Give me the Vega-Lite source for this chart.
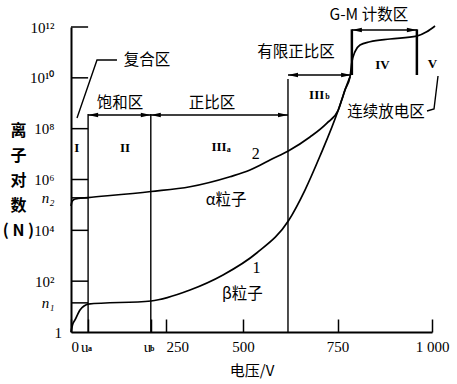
{
  "$schema": "https://vega.github.io/schema/vega-lite/v6.json",
  "width": 361,
  "height": 305,
  "autosize": "none",
  "padding": {"left": 71, "top": 27, "right": 25, "bottom": 52},
  "background": "white",
  "config": {
    "view": {"stroke": null},
    "axis": {"grid": false, "domainColor": "#000", "domainWidth": 2, "labelColor": "#000", "titleColor": "#000", "tickColor": "#000"}
  },
  "datasets": {
    "curves": [
      {"s": "a", "u": 0, "n": 90600}, {"s": "a", "u": 2.6, "n": 136000}, {"s": "a", "u": 7.9, "n": 163000},
      {"s": "a", "u": 18.4, "n": 179000}, {"s": "a", "u": 44.7, "n": 195000}, {"s": "a", "u": 210.5, "n": 337000},
      {"s": "a", "u": 327.9, "n": 520000}, {"s": "a", "u": 457.8, "n": 1290000}, {"s": "a", "u": 518.5, "n": 2360000},
      {"s": "a", "u": 545, "n": 3610000}, {"s": "a", "u": 571.4, "n": 5840000}, {"s": "a", "u": 619.8, "n": 13200000},
      {"s": "a", "u": 677.2, "n": 46900000}, {"s": "a", "u": 721.4, "n": 162000000}, {"s": "a", "u": 752.1, "n": 541000000},
      {"s": "a", "u": 761.1, "n": 1340000000}, {"s": "a", "u": 769.8, "n": 3310000000}, {"s": "a", "u": 783.1, "n": 11000000000},
      {"s": "a", "u": 787.6, "n": 38000000000}, {"s": "a", "u": 796.3, "n": 107000000000}, {"s": "a", "u": 809.5, "n": 195000000000},
      {"s": "a", "u": 836, "n": 263000000000}, {"s": "a", "u": 888.9, "n": 337000000000}, {"s": "a", "u": 959.5, "n": 438000000000},
      {"s": "a", "u": 986, "n": 650000000000}, {"s": "a", "u": 1008, "n": 1100000000000},
      {"s": "b", "u": 0, "n": 1}, {"s": "b", "u": 3.9, "n": 1.88}, {"s": "b", "u": 10.5, "n": 2.97},
      {"s": "b", "u": 23.7, "n": 7.33}, {"s": "b", "u": 34.2, "n": 10.5}, {"s": "b", "u": 44.7, "n": 12.6},
      {"s": "b", "u": 210.5, "n": 16.6}, {"s": "b", "u": 327.9, "n": 44.9}, {"s": "b", "u": 435.1, "n": 175},
      {"s": "b", "u": 536.2, "n": 1282}, {"s": "b", "u": 619.8, "n": 23300}, {"s": "b", "u": 664, "n": 386000},
      {"s": "b", "u": 703.7, "n": 8390000}, {"s": "b", "u": 752.1, "n": 541000000},
      {"s": "b", "u": 761.1, "n": 1340000000}, {"s": "b", "u": 769.8, "n": 3310000000}, {"s": "b", "u": 783.1, "n": 11000000000}
    ],
    "yticks": [
      {"u": 0, "u2": 45, "n": 1000000000000}, {"u": 0, "u2": 45, "n": 10000000000}, {"u": 0, "u2": 45, "n": 100000000},
      {"u": 0, "u2": 45, "n": 1000000}, {"u": 0, "u2": 45, "n": 190000}, {"u": 0, "u2": 45, "n": 10000},
      {"u": 0, "u2": 45, "n": 100}, {"u": 0, "u2": 45, "n": 14}
    ],
    "vlines": [
      {"k": "r", "u": 45, "n": 1, "n2": 377000000},
      {"k": "r", "u": 210, "n": 1, "n2": 377000000},
      {"k": "r", "u": 619, "n": 1, "n2": 9000000000},
      {"k": "g", "u": 788, "n": 12900000000, "n2": 810000000000},
      {"k": "g", "u": 960, "n": 12900000000, "n2": 810000000000}
    ],
    "arrows": [
      {"u": 45, "u2": 210, "n": 344000000},
      {"u": 210, "u2": 619, "n": 344000000},
      {"u": 619, "u2": 786, "n": 12900000000},
      {"u": 788, "u2": 960, "n": 760000000000}
    ],
    "leaders": [
      {"g": "f", "i": 1, "u": 121, "n": 50000000000}, {"g": "f", "i": 2, "u": 68.4, "n": 50000000000}, {"g": "f", "i": 3, "u": 15.8, "n": 262000000},
      {"g": "l", "i": 1, "u": 986.8, "n": 494000000}, {"g": "l", "i": 2, "u": 1005.3, "n": 593000000}, {"g": "l", "i": 3, "u": 1015.9, "n": 11800000000}
    ],
    "texts": [
      {"t": "复合区", "u": 200, "n": 50000000000, "k": "c"},
      {"t": "饱和区", "u": 129, "n": 1020000000, "k": "c"},
      {"t": "正比区", "u": 399, "n": 1020000000, "k": "c"},
      {"t": "有限正比区", "u": 640, "n": 104000000000, "k": "c"},
      {"t": "G-M 计数区", "u": 833, "n": 2970000000000, "k": "c"},
      {"t": "连续放电区", "u": 878, "n": 464000000, "k": "c"},
      {"t": "α粒子", "u": 445, "n": 156000, "k": "c"},
      {"t": "β粒子", "u": 498, "n": 32.7, "k": "c"},
      {"t": "I", "u": 15, "n": 18100000, "k": "r"},
      {"t": "II", "u": 142, "n": 18100000, "k": "r"},
      {"t": "III", "u": 422, "n": 19000000, "k": "r"},
      {"t": "III", "u": 695, "n": 2100000000, "k": "r"},
      {"t": "IV", "u": 869, "n": 32000000000, "k": "r"},
      {"t": "V", "u": 1001, "n": 34000000000, "k": "r"},
      {"t": "a", "u": 453.6, "n": 15100000, "k": "s"},
      {"t": "b", "u": 723.5, "n": 1760000000, "k": "s"},
      {"t": "2", "u": 534, "n": 10000000, "k": "d"},
      {"t": "1", "u": 536, "n": 344, "k": "d"},
      {"t": "a", "u": 50, "n": 0.21, "k": "x"},
      {"t": "b", "u": 214, "n": 0.22, "k": "x"}
    ]
  },
  "layer": [
    {
      "data": {"name": "curves"},
      "mark": {"type": "line", "interpolate": "monotone", "color": "#000", "strokeWidth": 1.7},
      "encoding": {
        "x": {
          "field": "u", "type": "quantitative",
          "scale": {"domain": [0, 250, 500, 1000], "range": [0, 95, 172, 361], "nice": false, "zero": false},
          "axis": {
            "values": [0, 45, 210, 250, 500, 750, 1000],
            "labelExpr": "datum.value==0?'0':datum.value==45?'u':datum.value==210?'u':datum.value==1000?'1 000':datum.value==750?'750':datum.value==500?'500':'250'",
            "labelAlign": {"condition": [{"test": "datum.value==0||datum.value==250", "value": "left"}, {"test": "datum.value==45||datum.value==210", "value": "right"}], "value": "center"},
            "labelFlush": false, "labelOverlap": false, "labelBound": false,
            "tickSize": -13, "tickWidth": 1.5,
            "labelPadding": 20, "labelBaseline": "top",
            "labelFont": "Liberation Serif", "labelFontSize": 15,
            "title": "电压/V", "titleFont": "Noto Sans CJK SC", "titleFontSize": 15, "titleFontWeight": "normal",
            "titleY": 38, "titleBaseline": "middle"
          }
        },
        "y": {
          "field": "n", "type": "quantitative",
          "scale": {"type": "log", "domain": [1, 1000000000000], "nice": false},
          "axis": {
            "values": [1, 14, 100, 10000, 190000, 1000000, 100000000, 10000000000, 1000000000000],
            "labelExpr": "datum.value==1?'1':datum.value==14?'n₁':datum.value==100?'10²':datum.value==10000?'10⁴':datum.value==190000?'n₂':datum.value==1000000?'10⁶':datum.value==100000000?'10⁸':datum.value==10000000000?'10¹⁰':'10¹²'",
            "ticks": false, "labelPadding": 17, "labelOverlap": false, "labelBound": false, "labelFlush": false,
            "labelFont": "Liberation Serif", "labelFontSize": 15,
            "labelFontStyle": {"condition": {"test": "datum.value==14||datum.value==190000", "value": "italic"}, "value": "normal"},
            "labelAlign": {"condition": {"test": "datum.value==1", "value": "left"}, "value": "right"},
            "title": ["离", "子", "对", "数", "( N )"],
            "titleAngle": 0, "titleAlign": "center", "titleBaseline": "top",
            "titleX": -53, "titleY": 95, "titleLineHeight": 25,
            "titleFont": "Noto Sans CJK SC", "titleFontSize": 16, "titleFontWeight": "bold"
          }
        },
        "detail": {"field": "s"}
      }
    },
    {
      "data": {"name": "yticks"},
      "mark": {"type": "rule", "color": "#000", "strokeWidth": 1.5},
      "encoding": {
        "x": {"field": "u", "type": "quantitative"},
        "x2": {"field": "u2"},
        "y": {"field": "n", "type": "quantitative"}
      }
    },
    {
      "data": {"name": "vlines"},
      "transform": [{"filter": "datum.k=='r'"}],
      "mark": {"type": "rule", "color": "#000", "strokeWidth": 1.4},
      "encoding": {
        "x": {"field": "u", "type": "quantitative"},
        "y": {"field": "n", "type": "quantitative"},
        "y2": {"field": "n2"}
      }
    },
    {
      "data": {"name": "vlines"},
      "transform": [{"filter": "datum.k=='g'"}],
      "mark": {"type": "rule", "color": "#000", "strokeWidth": 2.5},
      "encoding": {
        "x": {"field": "u", "type": "quantitative"},
        "y": {"field": "n", "type": "quantitative"},
        "y2": {"field": "n2"}
      }
    },
    {
      "data": {"name": "arrows"},
      "mark": {"type": "rule", "color": "#000", "strokeWidth": 1.4},
      "encoding": {
        "x": {"field": "u", "type": "quantitative"},
        "x2": {"field": "u2"},
        "y": {"field": "n", "type": "quantitative"}
      }
    },
    {
      "data": {"name": "arrows"},
      "mark": {"type": "point", "shape": "M0,0L2,-0.45L2,0.45Z", "filled": true, "color": "#000", "size": 100, "opacity": 1, "strokeWidth": 0},
      "encoding": {
        "x": {"field": "u", "type": "quantitative"},
        "y": {"field": "n", "type": "quantitative"}
      }
    },
    {
      "data": {"name": "arrows"},
      "mark": {"type": "point", "shape": "M0,0L-2,-0.45L-2,0.45Z", "filled": true, "color": "#000", "size": 100, "opacity": 1, "strokeWidth": 0},
      "encoding": {
        "x": {"field": "u2", "type": "quantitative"},
        "y": {"field": "n", "type": "quantitative"}
      }
    },
    {
      "data": {"name": "leaders"},
      "mark": {"type": "line", "color": "#000", "strokeWidth": 1.4},
      "encoding": {
        "x": {"field": "u", "type": "quantitative"},
        "y": {"field": "n", "type": "quantitative"},
        "detail": {"field": "g"},
        "order": {"field": "i"}
      }
    },
    {
      "data": {"name": "texts"},
      "transform": [{"filter": "datum.k=='c'"}],
      "mark": {"type": "text", "font": "Noto Sans CJK SC", "fontSize": 15.5, "color": "#000", "align": "center", "baseline": "middle"},
      "encoding": {
        "x": {"field": "u", "type": "quantitative"},
        "y": {"field": "n", "type": "quantitative"},
        "text": {"field": "t"}
      }
    },
    {
      "data": {"name": "texts"},
      "transform": [{"filter": "datum.k=='r'"}],
      "mark": {"type": "text", "font": "Liberation Serif", "fontWeight": "bold", "fontSize": 13, "color": "#000", "align": "center", "baseline": "middle"},
      "encoding": {
        "x": {"field": "u", "type": "quantitative"},
        "y": {"field": "n", "type": "quantitative"},
        "text": {"field": "t"}
      }
    },
    {
      "data": {"name": "texts"},
      "transform": [{"filter": "datum.k=='s'"}],
      "mark": {"type": "text", "font": "Liberation Serif", "fontWeight": "bold", "fontSize": 8, "color": "#000", "align": "center", "baseline": "middle"},
      "encoding": {
        "x": {"field": "u", "type": "quantitative"},
        "y": {"field": "n", "type": "quantitative"},
        "text": {"field": "t"}
      }
    },
    {
      "data": {"name": "texts"},
      "transform": [{"filter": "datum.k=='d'"}],
      "mark": {"type": "text", "font": "Liberation Serif", "fontSize": 16, "color": "#000", "align": "center", "baseline": "middle"},
      "encoding": {
        "x": {"field": "u", "type": "quantitative"},
        "y": {"field": "n", "type": "quantitative"},
        "text": {"field": "t"}
      }
    },
    {
      "data": {"name": "texts"},
      "transform": [{"filter": "datum.k=='x'"}],
      "mark": {"type": "text", "font": "Liberation Serif", "fontWeight": "bold", "fontSize": 8, "color": "#000", "align": "center", "baseline": "middle"},
      "encoding": {
        "x": {"field": "u", "type": "quantitative"},
        "y": {"field": "n", "type": "quantitative"},
        "text": {"field": "t"}
      }
    }
  ]
}
